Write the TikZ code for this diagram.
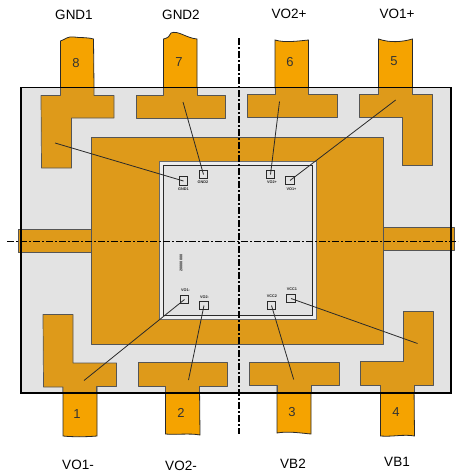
\documentclass[tikz,border=0pt]{standalone}
\usepackage{fontspec}
\setmainfont{Liberation Sans}
\definecolor{pinor}{HTML}{F5A300}
\definecolor{padgold}{HTML}{DE9A1A}
\definecolor{bodygray}{HTML}{E3E3E3}
\definecolor{inkline}{HTML}{2A2A2A}
\tikzset{
  pinshape/.style={fill=pinor,draw=inkline,line width=0.8pt},
  padshape/.style={fill=padgold,draw=inkline!80,line width=0.7pt,line join=round},
  pinlabel/.style={inner sep=0pt,font=\fontsize{13.5}{14}\selectfont,text=black},
  pinnum/.style={inner sep=0pt,font=\fontsize{13}{14}\selectfont,text=black!80},
  diepad/.style={draw=inkline,line width=0.8pt,minimum size=8.5pt,inner sep=0pt,fill=bodygray},
  padtext/.style={inner sep=0pt,font=\fontsize{3.8}{4}\selectfont\bfseries,text=black!85},
  bond/.style={draw=inkline,line width=0.8pt},
  axisline/.style={draw=black,line width=1.2pt,dash pattern=on 7pt off 2pt on 2pt off 2pt}
}
\begin{document}
\begin{tikzpicture}[x=1pt,y=-1pt]
\useasboundingbox (0,0) rectangle (458,471);
% package body
\fill[bodygray] (21,87.5) rectangle (451,392.7);
% pins
\draw[pinshape] (60.5,88) -- (60.5,41) .. controls (66,39) and (68,36) .. (74,37) .. controls (80,38) and (86,37) .. (93.5,39) -- (94,88) -- cycle;
\draw[pinshape] (163.5,88) -- (163.5,39) .. controls (168,38) and (170,36) .. (171,33) .. controls (178,30) and (186,38) .. (197,39) -- (197,88) -- cycle;
\draw[pinshape] (275,88) -- (275,40) .. controls (285,43) and (298,41) .. (308.5,40) -- (308.5,88) -- cycle;
\draw[pinshape] (378.5,88) -- (378.5,39) .. controls (390,43) and (402,42) .. (412.5,39) -- (412.5,88) -- cycle;
\draw[pinshape] (63,387) -- (63,436) .. controls (72,437) and (86,437) .. (97,436) -- (97,387) -- cycle;
\draw[pinshape] (165.5,386) -- (165.5,434) .. controls (175,435) and (190,433) .. (200,435) -- (199.5,386) -- cycle;
\draw[pinshape] (277,385) -- (277,433) .. controls (288,431) and (300,433) .. (311,434) -- (311,385) -- cycle;
\draw[pinshape] (380.5,385) -- (380.5,436) .. controls (392,437) and (404,434) .. (414.5,436) -- (414,385) -- cycle;
% centre frame
\draw[padshape] (91,137) rectangle (383,344);
\fill[white!93!black] (159,161) rectangle (316.5,319);
\draw[draw=inkline!70,line width=0.6pt] (159,161) rectangle (316.5,319);
\draw[draw=inkline,line width=0.8pt,fill=bodygray] (163,165) rectangle (312,315);
% side tabs
\draw[padshape] (18,229) -- (91,229) -- (91,252.5) -- (18,252.5) -- cycle;
\draw[padshape] (383,227) -- (454,227) -- (454,250) -- (383,250) -- cycle;
% lead frames
\draw[padshape] (41,95.5) -- (60.5,95.5) -- (60.5,87.5) -- (94,87.5) -- (94,95.5) -- (114,95.5) -- (114,118) -- (71.5,118) -- (71.5,168) -- (41.5,168) -- cycle;
\draw[padshape] (136,95.5) -- (163.5,95.5) -- (163.5,87.5) -- (197,87.5) -- (197,95.5) -- (225.5,95.5) -- (225.5,118) -- (136,118) -- cycle;
\draw[padshape] (247.5,94) -- (275,94) -- (275,87.5) -- (308.5,87.5) -- (308.5,94) -- (337.5,94) -- (337.5,117.5) -- (247.5,117.5) -- cycle;
\draw[padshape] (359,94) -- (378.5,94) -- (378.5,87.5) -- (412.5,87.5) -- (412.5,94) -- (432.5,94) -- (432.5,165.5) -- (402,165.5) -- (402,117) -- (359,117) -- cycle;
\draw[padshape] (43,314.5) -- (73,314.5) -- (73,363) -- (116.5,363) -- (116.5,386.5) -- (96.5,386.5) -- (96.5,392.7) -- (63,392.7) -- (63,387) -- (43.5,387) -- cycle;
\draw[padshape] (138,362.5) -- (227,362.5) -- (227,386) -- (199.5,386) -- (199.5,392.7) -- (165.5,392.7) -- (165.5,386) -- (138,386) -- cycle;
\draw[padshape] (249,362) -- (339,362) -- (339,385.5) -- (311,385.5) -- (311,392.7) -- (277,392.7) -- (277,385.5) -- (249,385.5) -- cycle;
\draw[padshape] (403,311.5) -- (433.5,311.5) -- (433.5,385) -- (414,385) -- (414,392.7) -- (380.5,392.7) -- (380.5,385) -- (360.5,385) -- (360.5,361) -- (403,361) -- cycle;
% body outline
\draw[draw=black,line width=1.7pt] (21,87.5) rectangle (451,392.7);
% die pads
\node[diepad] (gndone) at (183.5,181) {};
\node[diepad] (gndtwo) at (203.5,174.5) {};
\node[diepad] (vottwo) at (270.5,174.5) {};
\node[diepad] (votone) at (290,180.5) {};
\node[diepad] (vomone) at (184.5,299.5) {};
\node[diepad] (vomtwo) at (204,305.5) {};
\node[diepad] (vcctwo) at (271.5,305.5) {};
\node[diepad] (vccone) at (291,298.5) {};
\node[padtext] at (183.5,189.5) {GND1};
\node[padtext] at (203,182.5) {GND2};
\node[padtext] at (272,182.5) {VO2+};
\node[padtext] at (291.5,189.5) {VO1+};
\node[padtext] at (185.5,290.5) {VO1-};
\node[padtext] at (204.5,297) {VO2-};
\node[padtext] at (272,296.5) {VCC2};
\node[padtext] at (292,289.5) {VCC1};
\node[padtext,rotate=90] at (181,263) {20000000};
% free ends of bond wires
\coordinate (wa) at (55,143);
\coordinate (wb) at (183,102);
\coordinate (wc) at (279.5,101.5);
\coordinate (wd) at (395.7,100);
\coordinate (we) at (84,380.5);
\coordinate (wf) at (188.5,380);
\coordinate (wg) at (293.7,379.5);
\coordinate (wh) at (417.5,343.5);
\draw[bond] (wa) -- (gndone.center);
\draw[bond] (wb) -- (gndtwo.center);
\draw[bond] (wc) -- (vottwo.center);
\draw[bond] (wd) -- (votone.center);
\draw[bond] (we) -- (vomone.center);
\draw[bond] (wf) -- (vomtwo.center);
\draw[bond] (wg) -- (vcctwo.center);
\draw[bond] (wh) -- (vccone.center);
% axes
\coordinate (va) at (239,38);
\coordinate (vb) at (239,434);
\coordinate (ha) at (7,241.5);
\coordinate (hb) at (458,241.5);
\draw[axisline] (va) -- (vb);
\draw[axisline] (ha) -- (hb);
% pin numbers
\node[pinnum] at (76,63) {8};
\node[pinnum] at (179,62.5) {7};
\node[pinnum] at (290,62.5) {6};
\node[pinnum] at (394,61.5) {5};
\node[pinnum] at (77,414) {1};
\node[pinnum] at (181,413) {2};
\node[pinnum] at (292,412.5) {3};
\node[pinnum] at (396,412) {4};
% pin names
\node[pinlabel] at (74,15) {GND1};
\node[pinlabel] at (181,15) {GND2};
\node[pinlabel] at (289,14) {VO2+};
\node[pinlabel] at (397,14) {VO1+};
\node[pinlabel] at (78,465) {VO1-};
\node[pinlabel] at (181,466) {VO2-};
\node[pinlabel] at (293,463.5) {VB2};
\node[pinlabel] at (397,462) {VB1};
\end{tikzpicture}
\end{document}
